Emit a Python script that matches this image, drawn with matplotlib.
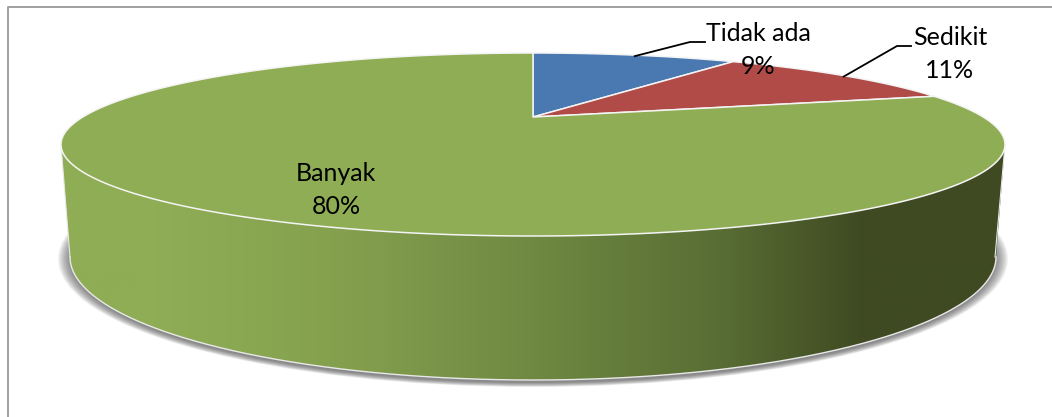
import numpy as np
from matplotlib import pyplot as plt
from matplotlib.colors import LinearSegmentedColormap
from matplotlib.patches import Ellipse, Polygon

categories = ['Tidak ada', 'Sedikit', 'Banyak']
values = [9, 11, 80]
colors = ['#4A78B0', '#B04B48', '#8FAD55']

# side wall shading, left to right
shade_pos = [0.0, 0.10, 0.30, 0.50, 0.70, 0.85, 1.0]
shade_col = ['#8FAD55', '#8FAD55', '#84A04E', '#6F8942', '#586D34', '#3F4A22', '#3F4A22']

label_xy = [(758, 33), (950, 37), (336, 173)]
leader_knee = [(690, 42), (897, 46)]
leader_end = [(705, 42), (911, 46)]

CX, CY = 533, 117       # pie centre as seen in perspective
TX, TY, TRX, TRY = 533, 144.5, 472, 91.5    # upper rim ellipse
BX, BY, BRX, BRY = 533, 257, 463, 123       # lower rim ellipse
P = 0.26
GRID = 400


def rim(theta):
    # theta in radians, clockwise from the back of the pie
    w = 1 + P * np.cos(theta)
    sin_phi = np.sqrt(1 - P ** 2) * np.sin(theta) / w
    cos_phi = (np.cos(theta) + P) / w
    return TX + TRX * sin_phi, TY - TRY * cos_phi


fig = plt.figure(figsize=(10.52, 4.17), dpi=100)
ax = fig.add_axes([0, 0, 1, 1])
ax.axis('off')

# chart frame
ax.plot([8, 8, 1052], [417, 7, 7], color='#A0A0A0', lw=1.4, zorder=1)

# soft drop shadow under the wall
for i in range(14):
    ax.add_patch(Ellipse((BX, BY + 2), 2 * (BRX + 12 - i), 2 * (BRY + 5 - i * 0.35),
                         fc='#505050', ec='none', alpha=0.07, zorder=2))

# wall: top rim front half plus lower rim front half
t = np.linspace(0, np.pi, GRID)
top_x = TX + TRX * np.cos(t)
top_y = TY + TRY * np.sin(t)
low_x = BX + BRX * np.cos(t)
low_y = BY + BRY * np.sin(t)
wall = Polygon(np.column_stack([np.r_[top_x, low_x[::-1]], np.r_[top_y, low_y[::-1]]]),
               fc='none', ec='none', zorder=3)
ax.add_patch(wall)
cmap = LinearSegmentedColormap.from_list('wall', list(zip(shade_pos, shade_col)))
grad = ax.imshow(np.linspace(0, 1, 512).reshape(1, -1), cmap=cmap, aspect='auto',
                 extent=(61, 1005, 381, 140), zorder=3)
grad.set_clip_path(wall)
ax.plot(low_x, low_y, color='#E8E8E8', lw=1, zorder=4)
ax.plot([61, 70], [145, 257], color='#E8E8E8', lw=0.8, zorder=4)
ax.plot([1005, 995], [145, 257], color='#E8E8E8', lw=0.8, zorder=4)

# top face slices
fracs = np.array(values) / sum(values)
edges = np.r_[0, np.cumsum(fracs)] * 2 * np.pi
for i in range(len(values)):
    th = np.linspace(edges[i], edges[i + 1], 200)
    x, y = rim(th)
    ax.add_patch(Polygon(np.column_stack([np.r_[CX, x], np.r_[CY, y]]), fc=colors[i],
                         ec='#F4F4F4', lw=1.1, joinstyle='round', zorder=5))

# labels and leader lines
for i in range(len(values)):
    ax.text(label_xy[i][0], label_xy[i][1], categories[i], family='Lato', fontsize=18,
            color='black', ha='center', va='center', zorder=7)
    ax.text(label_xy[i][0], label_xy[i][1] + 33, '{}%'.format(values[i]), family='Lato', fontsize=18,
            color='black', ha='center', va='center', zorder=7)
    if i < len(leader_knee):
        mx, my = rim((edges[i] + edges[i + 1]) / 2)
        ax.plot([mx, leader_knee[i][0], leader_end[i][0]], [my + 1, leader_knee[i][1], leader_end[i][1]],
                color='black', lw=1.3, zorder=6)

ax.set_xlim(0, 1052)
ax.set_ylim(417, 0)
fig.savefig('out.png', dpi=100)
